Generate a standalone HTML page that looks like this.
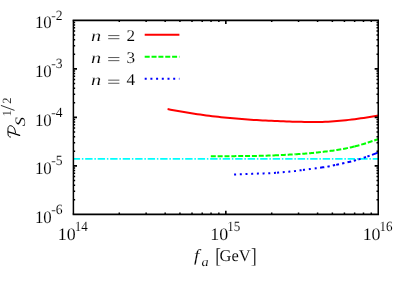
<!DOCTYPE html>
<html><head><meta charset="utf-8"><title>plot</title>
<style>html,body{margin:0;padding:0;background:#fff;}svg{display:block;will-change:transform;}text{font-family:"Liberation Serif",serif;fill:#000;text-rendering:geometricPrecision;stroke:#fff;stroke-width:0.1px;}.it{font-style:italic;}</style></head><body>
<svg width="409" height="286" viewBox="0 0 409 286">
<rect x="0" y="0" width="409" height="286" fill="#fff"/>
<defs><clipPath id="c"><rect x="73.40" y="20.35" width="305.15" height="194.00"/></clipPath></defs>
<g clip-path="url(#c)" fill="none" stroke-width="2">
<line x1="73.40" y1="158.85" x2="378.25" y2="158.85" stroke="#00ffff" stroke-width="1.8" stroke-dasharray="7.4 1.8 1.5 1.8" stroke-dashoffset="0.72"/>
<path d="M167.60 109.10L170.57 109.66 173.54 110.20 176.52 110.74 179.49 111.26 182.46 111.77 185.43 112.27 188.40 112.76 191.37 113.23 194.35 113.69 197.32 114.14 200.29 114.58 203.26 115.00 206.23 115.40 209.21 115.78 212.18 116.15 215.15 116.50 218.12 116.84 221.09 117.16 224.06 117.48 227.04 117.78 230.01 118.08 232.98 118.35 235.95 118.61 238.92 118.86 241.90 119.09 244.87 119.32 247.84 119.54 250.81 119.74 253.78 119.93 256.75 120.11 259.73 120.28 262.70 120.43 265.67 120.58 268.64 120.72 271.61 120.86 274.59 120.99 277.56 121.11 280.53 121.23 283.50 121.35 286.47 121.46 289.45 121.57 292.42 121.67 295.39 121.74 298.36 121.80 301.33 121.85 304.30 121.89 307.28 121.93 310.25 121.97 313.22 121.99 316.19 122.00 319.16 121.98 322.14 121.91 325.11 121.79 328.08 121.64 331.05 121.46 334.02 121.25 336.99 121.04 339.97 120.83 342.94 120.56 345.91 120.23 348.88 119.88 351.85 119.52 354.83 119.15 357.80 118.75 360.77 118.33 363.74 117.89 366.71 117.43 369.68 116.95 372.66 116.46 375.63 115.96 378.60 115.45" stroke="#ff0000"/>
<path d="M210.80 156.20L212.27 156.20 213.74 156.20 215.21 156.20 216.68 156.19 218.15 156.19 219.62 156.19 221.09 156.18 222.56 156.18 224.03 156.17 225.50 156.17 226.97 156.16 228.44 156.16 229.91 156.15 231.38 156.14 232.85 156.14 234.32 156.13 235.79 156.12 237.26 156.11 238.73 156.10 240.20 156.09 241.67 156.08 243.13 156.07 244.60 156.06 246.07 156.04 247.54 156.03 249.01 156.01 250.48 155.99 251.95 155.98 253.42 155.95 254.89 155.93 256.36 155.90 257.83 155.87 259.30 155.84 260.77 155.80 262.24 155.77 263.71 155.73 265.18 155.69 266.65 155.65 268.12 155.61 269.59 155.56 271.06 155.52 272.53 155.47 274.00 155.41" stroke="#00ff00" stroke-dasharray="5 1.85"/>
<path d="M274.00 155.41L275.43 155.35 276.86 155.29 278.29 155.22 279.72 155.16 281.15 155.08 282.58 155.01 284.01 154.93 285.44 154.86 286.87 154.78 288.30 154.70 289.73 154.62 291.16 154.53 292.59 154.45 294.02 154.36 295.45 154.27" stroke="#00ff00" stroke-dasharray="5 1.85"/>
<path d="M295.45 154.27L296.93 154.17 298.41 154.07 299.89 153.96 301.37 153.86 302.84 153.75 304.32 153.63 305.80 153.52 307.28 153.40 308.76 153.28 310.24 153.16 311.72 153.03 313.19 152.90 314.67 152.76 316.15 152.62 317.63 152.46 319.11 152.30 320.59 152.13 322.07 151.96 323.55 151.79 325.02 151.61 326.50 151.43 327.98 151.24 329.46 151.05 330.94 150.85 332.42 150.65 333.90 150.44 335.38 150.22 336.86 150.00 338.33 149.76 339.81 149.51 341.29 149.26 342.77 148.99 344.25 148.72 345.73 148.43 347.21 148.13 348.69 147.83 350.16 147.51 351.64 147.18 353.12 146.83 354.60 146.47" stroke="#00ff00" stroke-dasharray="5 1.85"/>
<path d="M354.60 146.47L356.10 146.08 357.60 145.68 359.10 145.27 360.60 144.84 362.10 144.40 363.60 143.94 365.10 143.46 366.60 142.98 368.10 142.49 369.60 142.00 371.10 141.51 372.60 141.01 374.10 140.51 375.60 139.99 377.10 139.48 378.60 138.95" stroke="#00ff00" stroke-dasharray="5 1.85"/>
<path d="M234.10 174.50L235.58 174.46 237.07 174.41 238.55 174.36 240.03 174.31 241.51 174.26 243.00 174.21 244.48 174.16 245.96 174.10 247.44 174.04 248.93 173.98 250.41 173.92 251.89 173.86 253.38 173.79 254.86 173.73 256.34 173.66 257.82 173.60 259.31 173.55 260.79 173.49 262.27 173.44 263.76 173.39 265.24 173.33 266.72 173.27 268.20 173.21 269.69 173.16 271.17 173.09 272.65 173.03 274.13 172.95 275.62 172.86 277.10 172.74" stroke="#0000ff" stroke-dasharray="2 3.7"/>
<path d="M277.10 172.74L278.54 172.60 279.98 172.45 281.42 172.30 282.86 172.16 284.29 172.05 285.73 171.94 287.17 171.83 288.61 171.72 290.05 171.60 291.49 171.45 292.93 171.29 294.37 171.12 295.81 170.94 297.24 170.75 298.68 170.56 300.12 170.36 301.56 170.15 303.00 169.96" stroke="#0000ff" stroke-dasharray="2 3.65"/>
<path d="M303.00 169.96L304.00 169.83 305.00 169.70M308.80 169.23L309.80 169.10 310.80 168.97M314.70 168.48L315.70 168.35 316.70 168.22M320.10 167.77L321.50 167.57 322.90 167.36 324.30 167.15M327.40 166.63L328.55 166.42 329.70 166.21M332.80 165.58L333.95 165.34 335.10 165.09M336.20 164.86L337.60 164.56 339.00 164.25M342.10 163.56L343.25 163.30 344.40 163.04M347.50 162.32L348.73 162.03 349.97 161.73 351.20 161.43M353.80 160.77L354.90 160.47 356.00 160.16M358.40 159.43L359.50 159.09 360.60 158.75M363.70 157.76L364.85 157.38 366.00 156.99M367.40 156.49L368.50 156.10 369.60 155.72M372.00 154.87L373.32 154.39 374.64 153.88 375.96 153.37 377.28 152.86 378.60 152.35" stroke="#0000ff"/>
</g>
<g stroke="#000" stroke-width="1.5" fill="none">
<path d="M119.28 214.35v-1.75M119.28 20.35v1.75"/>
<path d="M146.13 214.35v-1.75M146.13 20.35v1.75"/>
<path d="M165.17 214.35v-1.75M165.17 20.35v1.75"/>
<path d="M179.94 214.35v-1.75M179.94 20.35v1.75"/>
<path d="M192.01 214.35v-1.75M192.01 20.35v1.75"/>
<path d="M202.21 214.35v-1.75M202.21 20.35v1.75"/>
<path d="M211.05 214.35v-1.75M211.05 20.35v1.75"/>
<path d="M218.85 214.35v-1.75M218.85 20.35v1.75"/>
<path d="M225.83 214.35v-3.60M225.83 20.35v3.60" stroke-width="1.6"/>
<path d="M271.71 214.35v-1.75M271.71 20.35v1.75"/>
<path d="M298.55 214.35v-1.75M298.55 20.35v1.75"/>
<path d="M317.59 214.35v-1.75M317.59 20.35v1.75"/>
<path d="M332.37 214.35v-1.75M332.37 20.35v1.75"/>
<path d="M344.43 214.35v-1.75M344.43 20.35v1.75"/>
<path d="M354.64 214.35v-1.75M354.64 20.35v1.75"/>
<path d="M363.48 214.35v-1.75M363.48 20.35v1.75"/>
<path d="M371.28 214.35v-1.75M371.28 20.35v1.75"/>
<path d="M73.40 199.75h1.75M378.25 199.75h-1.75"/>
<path d="M73.40 191.21h1.75M378.25 191.21h-1.75"/>
<path d="M73.40 185.15h1.75M378.25 185.15h-1.75"/>
<path d="M73.40 180.45h1.75M378.25 180.45h-1.75"/>
<path d="M73.40 176.61h1.75M378.25 176.61h-1.75"/>
<path d="M73.40 173.36h1.75M378.25 173.36h-1.75"/>
<path d="M73.40 170.55h1.75M378.25 170.55h-1.75"/>
<path d="M73.40 168.07h1.75M378.25 168.07h-1.75"/>
<path d="M73.40 165.85h3.60M378.25 165.85h-3.60" stroke-width="1.6"/>
<path d="M73.40 151.25h1.75M378.25 151.25h-1.75"/>
<path d="M73.40 142.71h1.75M378.25 142.71h-1.75"/>
<path d="M73.40 136.65h1.75M378.25 136.65h-1.75"/>
<path d="M73.40 131.95h1.75M378.25 131.95h-1.75"/>
<path d="M73.40 128.11h1.75M378.25 128.11h-1.75"/>
<path d="M73.40 124.86h1.75M378.25 124.86h-1.75"/>
<path d="M73.40 122.05h1.75M378.25 122.05h-1.75"/>
<path d="M73.40 119.57h1.75M378.25 119.57h-1.75"/>
<path d="M73.40 117.35h3.60M378.25 117.35h-3.60" stroke-width="1.6"/>
<path d="M73.40 102.75h1.75M378.25 102.75h-1.75"/>
<path d="M73.40 94.21h1.75M378.25 94.21h-1.75"/>
<path d="M73.40 88.15h1.75M378.25 88.15h-1.75"/>
<path d="M73.40 83.45h1.75M378.25 83.45h-1.75"/>
<path d="M73.40 79.61h1.75M378.25 79.61h-1.75"/>
<path d="M73.40 76.36h1.75M378.25 76.36h-1.75"/>
<path d="M73.40 73.55h1.75M378.25 73.55h-1.75"/>
<path d="M73.40 71.07h1.75M378.25 71.07h-1.75"/>
<path d="M73.40 68.85h3.60M378.25 68.85h-3.60" stroke-width="1.6"/>
<path d="M73.40 54.25h1.75M378.25 54.25h-1.75"/>
<path d="M73.40 45.71h1.75M378.25 45.71h-1.75"/>
<path d="M73.40 39.65h1.75M378.25 39.65h-1.75"/>
<path d="M73.40 34.95h1.75M378.25 34.95h-1.75"/>
<path d="M73.40 31.11h1.75M378.25 31.11h-1.75"/>
<path d="M73.40 27.86h1.75M378.25 27.86h-1.75"/>
<path d="M73.40 25.05h1.75M378.25 25.05h-1.75"/>
<path d="M73.40 22.57h1.75M378.25 22.57h-1.75"/>
</g>
<path d="M72.65 20.35H379.03M72.65 214.35H379.03" stroke="#000" stroke-width="1.7" fill="none"/>
<path d="M73.40 20.35V214.35" stroke="#000" stroke-width="1.5" fill="none"/>
<path d="M378.25 20.35V214.35" stroke="#000" stroke-width="1.55" fill="none"/>
<text transform="translate(51.80 222.60) scale(0.970 1.000)" font-size="17.4" text-anchor="end">10</text>
<text transform="translate(51.30 213.70) scale(0.960 1.000)" font-size="14.2">-6</text>
<text transform="translate(51.80 174.05) scale(0.970 1.000)" font-size="17.4" text-anchor="end">10</text>
<text transform="translate(51.30 165.15) scale(0.960 1.000)" font-size="14.2">-5</text>
<text transform="translate(51.80 125.50) scale(0.970 1.000)" font-size="17.4" text-anchor="end">10</text>
<text transform="translate(51.30 116.60) scale(0.960 1.000)" font-size="14.2">-4</text>
<text transform="translate(51.80 76.95) scale(0.970 1.000)" font-size="17.4" text-anchor="end">10</text>
<text transform="translate(51.30 68.05) scale(0.960 1.000)" font-size="14.2">-3</text>
<text transform="translate(51.80 28.40) scale(0.970 1.000)" font-size="17.4" text-anchor="end">10</text>
<text transform="translate(51.30 19.50) scale(0.960 1.000)" font-size="14.2">-2</text>
<text transform="translate(75.70 239.50) scale(1.030 1.000)" font-size="17.4" text-anchor="end">10</text>
<text transform="translate(74.70 230.70) scale(0.920 1.000)" font-size="14.2">14</text>
<text transform="translate(228.13 239.50) scale(1.030 1.000)" font-size="17.4" text-anchor="end">10</text>
<text transform="translate(227.13 230.70) scale(0.920 1.000)" font-size="14.2">15</text>
<text transform="translate(380.55 239.50) scale(1.030 1.000)" font-size="17.4" text-anchor="end">10</text>
<text transform="translate(379.55 230.70) scale(0.920 1.000)" font-size="14.2">16</text>
<text transform="translate(90.90 40.80) scale(1.270 1.000)" font-size="16" class="it">n</text>
<path d="M108.2 35.60h11.2M108.2 38.70h11.2" stroke="#000" stroke-width="0.65" fill="none"/>
<text transform="translate(126.60 40.80) scale(1.050 1.000)" font-size="16.4">2</text>
<line x1="144.7" y1="34.85" x2="179.4" y2="34.85" stroke="#ff0000" stroke-width="2"/>
<text transform="translate(90.90 63.05) scale(1.270 1.000)" font-size="16" class="it">n</text>
<path d="M108.2 57.55h11.2M108.2 60.65h11.2" stroke="#000" stroke-width="0.65" fill="none"/>
<text transform="translate(126.60 63.05) scale(1.050 1.000)" font-size="16.4">3</text>
<line x1="144.7" y1="56.85" x2="179.4" y2="56.85" stroke="#00ff00" stroke-width="2" stroke-dasharray="5 1.85"/>
<text transform="translate(90.90 85.30) scale(1.270 1.000)" font-size="16" class="it">n</text>
<path d="M108.2 80.15h11.2M108.2 83.25h11.2" stroke="#000" stroke-width="0.65" fill="none"/>
<text transform="translate(126.60 85.30) scale(1.050 1.000)" font-size="16.4">4</text>
<line x1="144.7" y1="78.85" x2="179.4" y2="78.85" stroke="#0000ff" stroke-width="2" stroke-dasharray="2 3.7"/>
<text transform="translate(194.10 261.30) scale(1.100 1.000)" font-size="17" class="it">f</text>
<text transform="translate(201.60 265.60) scale(1.100 1.000)" font-size="13" class="it">a</text>
<text transform="translate(215.30 262.60) scale(1.000 1.250)" font-size="17">[</text>
<text x="219.60" y="261.30" font-size="16.5">GeV</text>
<text transform="translate(251.00 262.60) scale(1.000 1.250)" font-size="17">]</text>
<g transform="translate(19.5,138.5) rotate(-90)">
<path d="M1.4 -9.0 C1.5 -10.6 2.8 -11.5 4.6 -11.5 L9.2 -11.6 C11.8 -11.6 13.1 -10.3 12.8 -8.6 C12.3 -6.0 9.8 -4.3 5.9 -4.0" fill="none" stroke="#000" stroke-width="0.95" stroke-linecap="round" stroke-linejoin="round"/>
<path d="M3.1 0.1 C4.5 -3.6 5.8 -7.4 6.7 -11.2" fill="none" stroke="#000" stroke-width="1.3" stroke-linecap="round"/>
<text transform="translate(12.20 5.40) scale(1.280 1.000)" font-size="14.4" class="it">S</text>
<text x="22.30" y="-8.60" font-size="12.5">1</text>
<path d="M28.1 -5.0L33.1 -18.6" stroke="#000" stroke-width="0.8" fill="none"/>
<text x="34.70" y="-8.60" font-size="12.5">2</text>
</g>
</svg></body></html>
